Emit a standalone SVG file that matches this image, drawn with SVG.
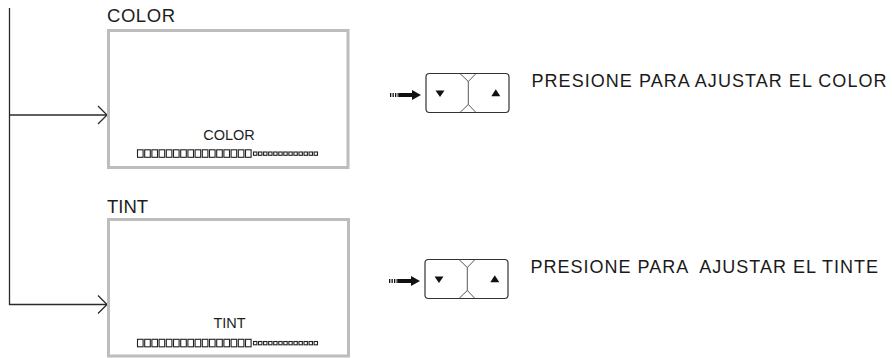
<svg xmlns="http://www.w3.org/2000/svg" width="892" height="358" viewBox="0 0 892 358">
  <style>
    .screen { fill: #ffffff; stroke: #bdbdbd; stroke-width: 3; }
    .title { font-family: "Liberation Sans", Arial, sans-serif; font-size: 18.5px; fill: #1e1e1e; }
    .osd { font-family: "Liberation Sans", Arial, sans-serif; font-size: 14.5px; fill: #1e1e1e; text-anchor: middle; }
    .hint { font-family: "Liberation Sans", Arial, sans-serif; font-size: 18px; fill: #1a1a1a; white-space: pre; }
    .wire { fill: none; stroke: #2a2a2a; stroke-width: 1.3; }
    .seg { fill: none; stroke: #222; stroke-width: 1.1; }
    .key { fill: #ffffff; stroke: #333; stroke-width: 1.2; }
    .notch { fill: none; stroke: #444; stroke-width: 0.9; }
    .ink { fill: #111; }
  </style>
  <defs>
    <!-- level bar: 16 large cells followed by 13 small cells -->
    <g id="levelBar">
      <rect class="seg" x="137.5" y="149.8" width="5.6" height="7.5"/>
      <rect class="seg" x="144.7" y="149.8" width="5.6" height="7.5"/>
      <rect class="seg" x="151.9" y="149.8" width="5.6" height="7.5"/>
      <rect class="seg" x="159.1" y="149.8" width="5.6" height="7.5"/>
      <rect class="seg" x="166.3" y="149.8" width="5.6" height="7.5"/>
      <rect class="seg" x="173.5" y="149.8" width="5.6" height="7.5"/>
      <rect class="seg" x="180.7" y="149.8" width="5.6" height="7.5"/>
      <rect class="seg" x="187.9" y="149.8" width="5.6" height="7.5"/>
      <rect class="seg" x="195.1" y="149.8" width="5.6" height="7.5"/>
      <rect class="seg" x="202.3" y="149.8" width="5.6" height="7.5"/>
      <rect class="seg" x="209.5" y="149.8" width="5.6" height="7.5"/>
      <rect class="seg" x="216.7" y="149.8" width="5.6" height="7.5"/>
      <rect class="seg" x="223.9" y="149.8" width="5.6" height="7.5"/>
      <rect class="seg" x="231.1" y="149.8" width="5.6" height="7.5"/>
      <rect class="seg" x="238.3" y="149.8" width="5.6" height="7.5"/>
      <rect class="seg" x="245.5" y="149.8" width="5.6" height="7.5"/>
      <rect class="seg" x="253.5" y="152" width="3.4" height="3.3"/>
      <rect class="seg" x="258.55" y="152" width="3.4" height="3.3"/>
      <rect class="seg" x="263.6" y="152" width="3.4" height="3.3"/>
      <rect class="seg" x="268.65" y="152" width="3.4" height="3.3"/>
      <rect class="seg" x="273.7" y="152" width="3.4" height="3.3"/>
      <rect class="seg" x="278.75" y="152" width="3.4" height="3.3"/>
      <rect class="seg" x="283.8" y="152" width="3.4" height="3.3"/>
      <rect class="seg" x="288.85" y="152" width="3.4" height="3.3"/>
      <rect class="seg" x="293.9" y="152" width="3.4" height="3.3"/>
      <rect class="seg" x="298.95" y="152" width="3.4" height="3.3"/>
      <rect class="seg" x="304" y="152" width="3.4" height="3.3"/>
      <rect class="seg" x="309.05" y="152" width="3.4" height="3.3"/>
      <rect class="seg" x="314.1" y="152" width="3.4" height="3.3"/>
    </g>
    <!-- pointer arrow plus the down/up key pad -->
    <g id="keyPad">
      <line x1="390" y1="95" x2="399" y2="95" stroke="#111" stroke-width="4" stroke-dasharray="1.3 1.2"/>
      <rect class="ink" x="399" y="93" width="14" height="4"/>
      <polygon class="ink" points="412,90 421,95 412,100"/>
      <rect class="key" x="426" y="73.5" width="83" height="39" rx="3.5"/>
      <polyline class="notch" points="460,73.5 468.3,81.5 476,73.5"/>
      <line class="notch" x1="468.3" y1="81.5" x2="468.3" y2="104.5"/>
      <polyline class="notch" points="460,112.5 468.3,104.5 476,112.5"/>
      <polygon class="ink" points="435.5,90.5 444.5,90.5 440,97"/>
      <polygon class="ink" points="491.3,96.3 500.3,96.3 495.8,89.3"/>
    </g>
  </defs>

  <!-- connectors -->
  <g id="connectors">
    <polyline class="wire" points="9.5,8 9.5,304.5 107,304.5"/>
    <line class="wire" x1="9.5" y1="115" x2="107" y2="115"/>
    <polyline class="wire" points="98,106 107,115 98,124"/>
    <polyline class="wire" points="98,295.5 107,304.5 98,313.5"/>
  </g>

  <!-- COLOR screen -->
  <g id="color-screen">
    <text class="title" x="107" y="21.5" textLength="68" lengthAdjust="spacing">COLOR</text>
    <rect class="screen" x="108.5" y="30.5" width="239.5" height="137"/>
    <text class="osd" x="229" y="140">COLOR</text>
    <use href="#levelBar"/>
  </g>

  <!-- TINT screen -->
  <g id="tint-screen">
    <text class="title" x="107" y="213">TINT</text>
    <rect class="screen" x="108.5" y="219.5" width="240" height="136.5"/>
    <text class="osd" x="229.5" y="328">TINT</text>
    <use href="#levelBar" transform="translate(0,189.5)"/>
  </g>

  <!-- COLOR adjust keys -->
  <g id="color-keys">
    <use href="#keyPad"/>
    <text class="hint" x="531.5" y="86.7" textLength="355" lengthAdjust="spacing">PRESIONE PARA AJUSTAR EL COLOR</text>
  </g>

  <!-- TINT adjust keys -->
  <g id="tint-keys">
    <use href="#keyPad" transform="translate(-1,186)"/>
    <text class="hint" x="530.5" y="273.3" textLength="347.5" lengthAdjust="spacing">PRESIONE PARA  AJUSTAR EL TINTE</text>
  </g>
</svg>
